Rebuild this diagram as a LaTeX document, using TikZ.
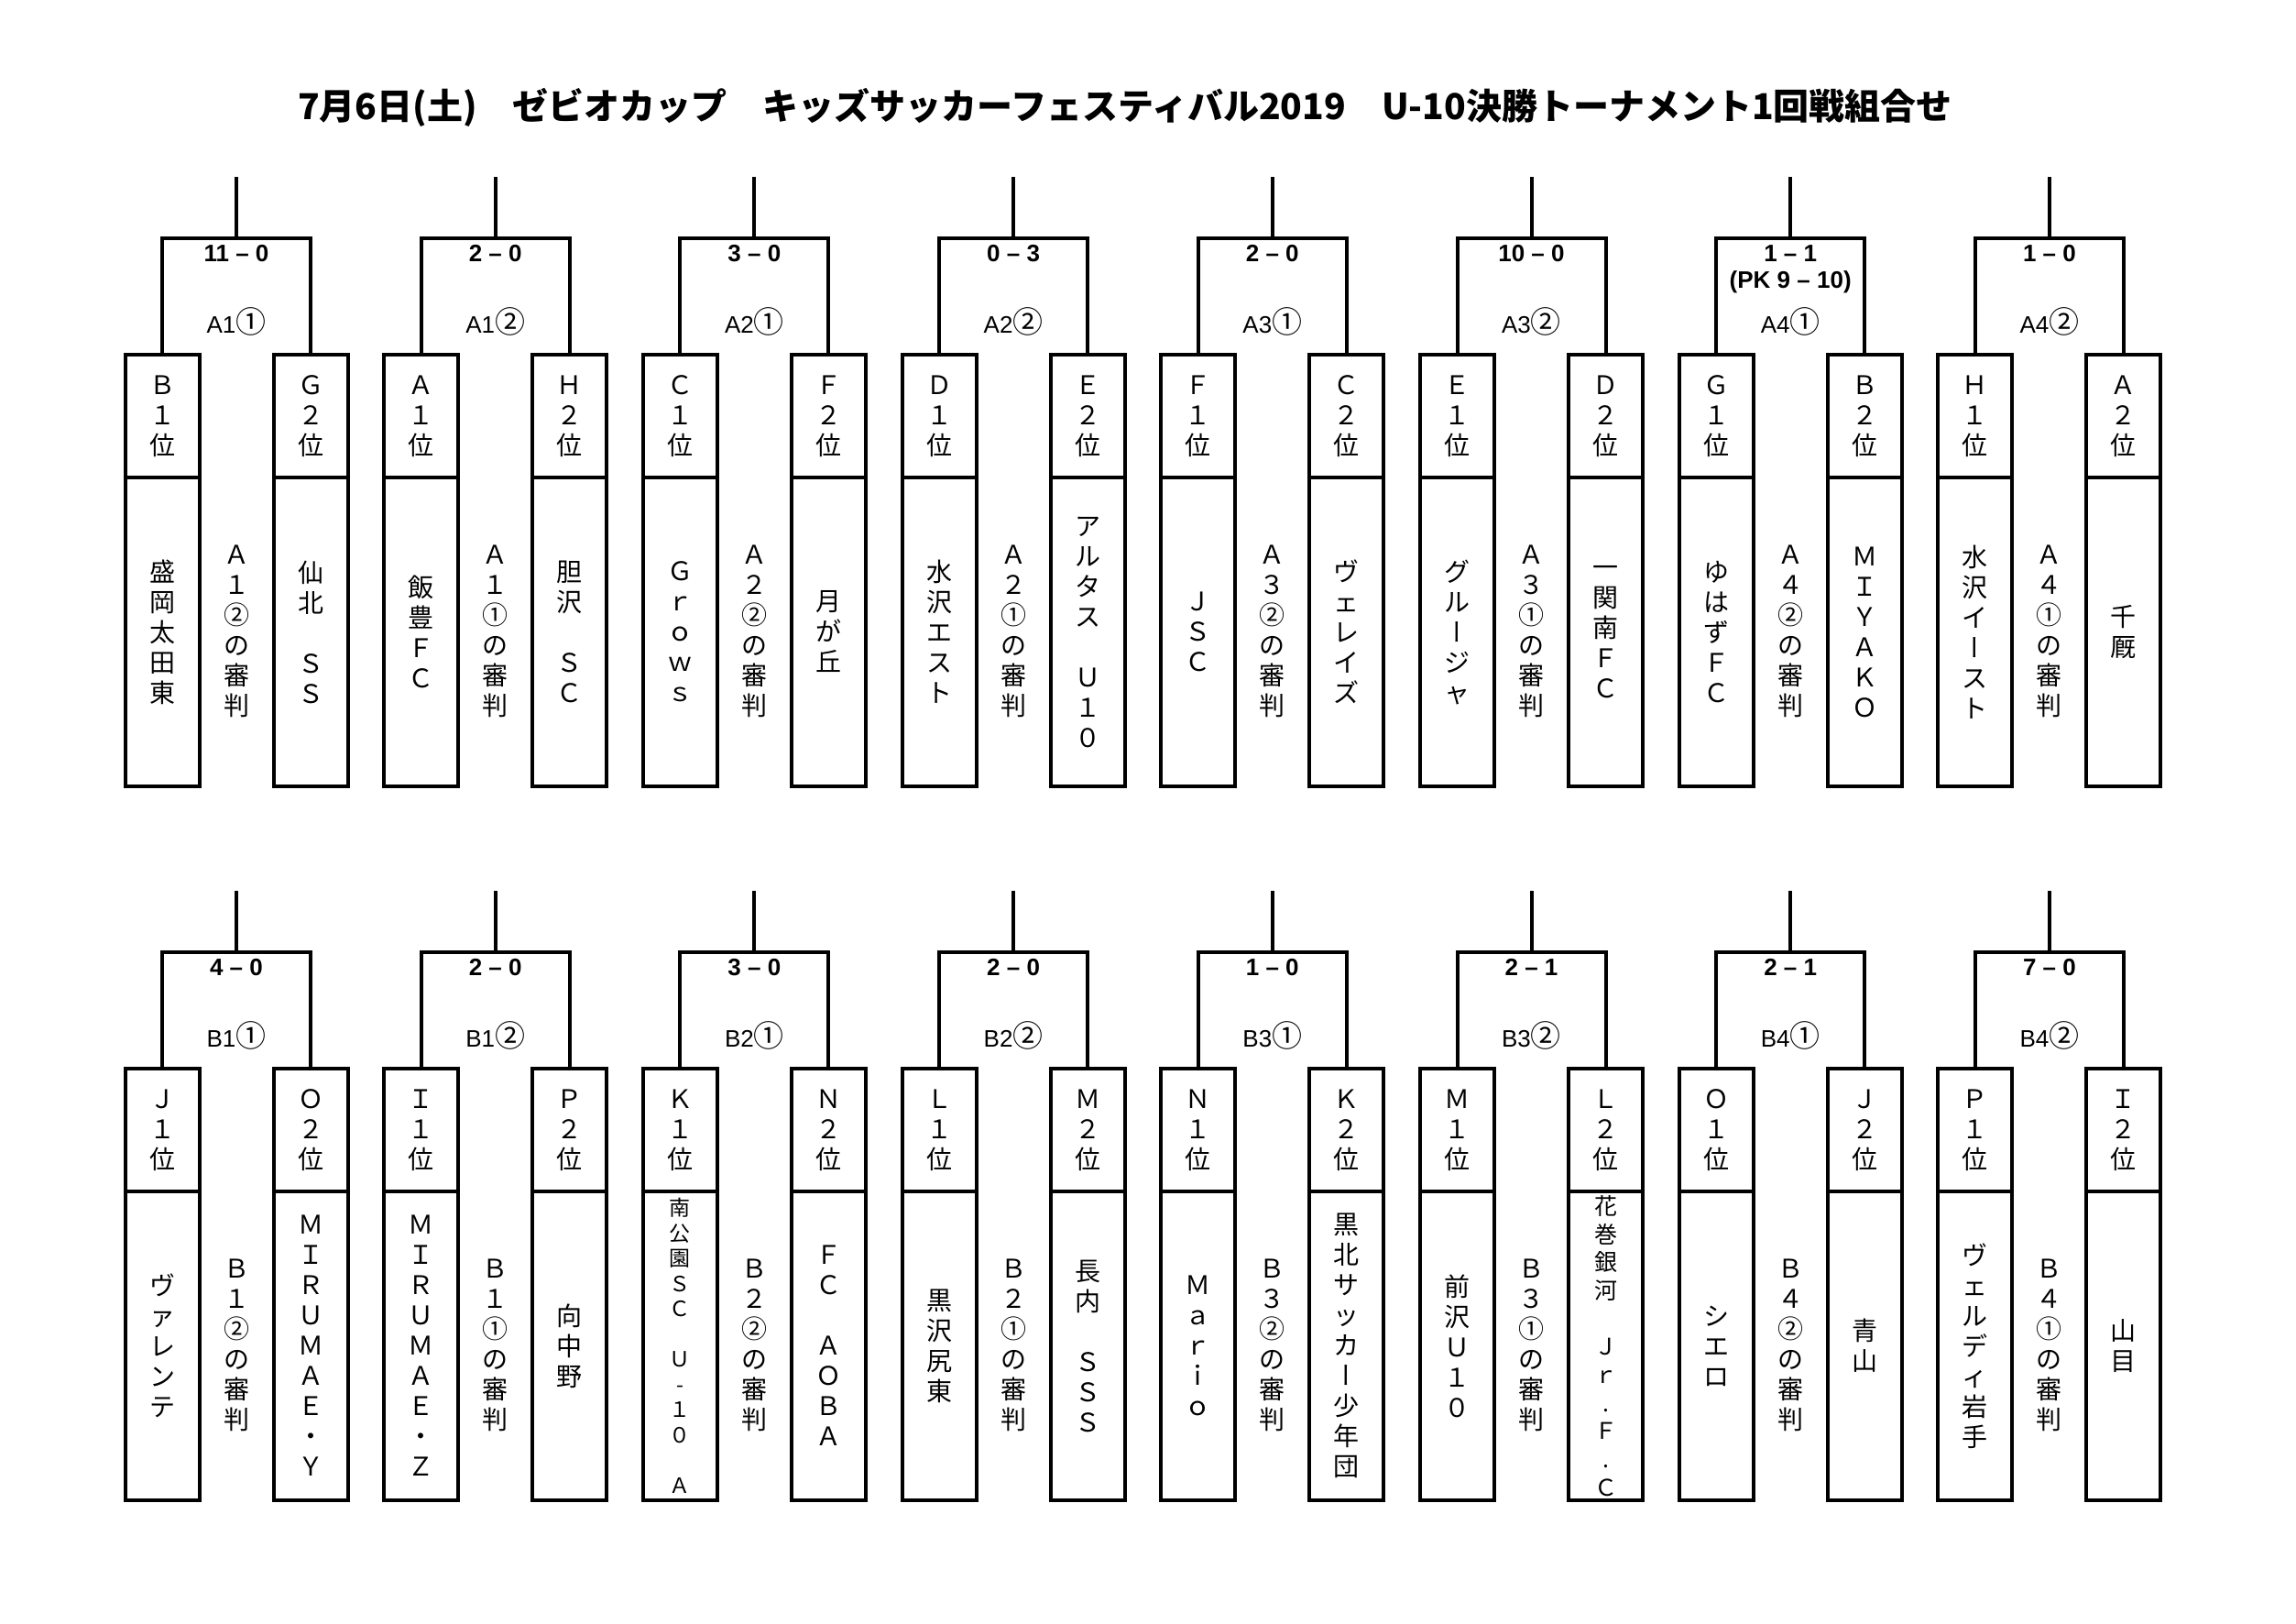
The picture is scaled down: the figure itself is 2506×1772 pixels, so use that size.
\documentclass[tikz,border=0pt]{standalone}
\usepackage{fontspec}
\setmainfont{Noto Sans CJK JP}
\newfontfamily\jp{Noto Sans CJK JP}
\newfontfamily\jpvert[RawFeature=+vert]{Noto Sans CJK JP}
\newfontfamily\lsans{Liberation Sans}
\makeatletter
\newdimen\vstskip \vstskip=33pt
\def\vst#1{\vbox{\baselineskip=\vstskip\lineskiplimit=-100pt\lineskip=0pt\relax\vst@a#1\vst@end}}
\def\vst@a#1{\ifx#1\vst@end\else\hbox to 0pt{\hss\vst@ch#1\hss}\expandafter\vst@a\fi}
\def\vst@ch#1{\ifx ー#1{\jpvert ー}\else #1\fi}
\def\vstx#1{\expandafter\vst\expandafter{#1}}
\makeatother
\tikzset{
  wire/.style={line width=4pt},
  rankbox/.style={draw, line width=4pt, minimum width=81pt, minimum height=134pt, inner sep=0pt, outer sep=0pt, font={\jp\fontsize{28pt}{33pt}\selectfont\vstskip=33pt\relax}},
  namebox/.style={draw, line width=4pt, minimum width=81pt, minimum height=337pt, inner sep=0pt, outer sep=0pt},
  nm/.style={font={\jp\fontsize{28pt}{33pt}\selectfont\vstskip=33pt\relax}},
  sma/.style={font={\jp\fontsize{23pt}{27.5pt}\selectfont\vstskip=27.5pt\relax}},
  smb/.style={font={\jp\fontsize{25pt}{30.7pt}\selectfont\vstskip=30.7pt\relax}},
  refer/.style={inner sep=0pt, font={\jp\fontsize{28pt}{33pt}\selectfont\vstskip=33pt\relax}},
  score/.style={inner sep=0pt, anchor=base, font={\lsans\bfseries\fontsize{26pt}{26pt}\selectfont}},
  glabel/.style={inner sep=0pt, anchor=base, font={\lsans\fontsize{26pt}{26pt}\selectfont}},
  titlestyle/.style={inner sep=0pt, font={\jp\bfseries\fontsize{39pt}{39pt}\selectfont}}
}
\begin{document}
\begin{tikzpicture}[x=1pt, y=-1pt]
\useasboundingbox (0,0) rectangle (2506,1772);
\node[titlestyle] (title) at (1228,117) {7月6日(土)　ゼビオカップ　キッズサッカーフェスティバル2019　U-10決勝トーナメント1回戦組合せ};
\foreach \r/\oy/\k/\lr/\ln/\ls/\rr/\rn/\rs/\rf/\sc/\lb/\cn in {
 t/0/0/Ｂ１位/盛岡太田東/nm/Ｇ２位/仙北　ＳＳ/nm/Ａ１②の審判/11 – 0/A1/①,
 t/0/1/Ａ１位/飯豊ＦＣ/nm/Ｈ２位/胆沢　ＳＣ/nm/Ａ１①の審判/2 – 0/A1/②,
 t/0/2/Ｃ１位/Ｇｒｏｗｓ/nm/Ｆ２位/月が丘/nm/Ａ２②の審判/3 – 0/A2/①,
 t/0/3/Ｄ１位/水沢エスト/nm/Ｅ２位/アルタス　Ｕ１０/nm/Ａ２①の審判/0 – 3/A2/②,
 t/0/4/Ｆ１位/ＪＳＣ/nm/Ｃ２位/ヴェレイズ/nm/Ａ３②の審判/2 – 0/A3/①,
 t/0/5/Ｅ１位/グルージャ/nm/Ｄ２位/一関南ＦＣ/nm/Ａ３①の審判/10 – 0/A3/②,
 t/0/6/Ｇ１位/ゆはずＦＣ/nm/Ｂ２位/ＭＩＹＡＫＯ/nm/Ａ４②の審判/1 – 1/A4/①,
 t/0/7/Ｈ１位/水沢イースト/nm/Ａ２位/千厩/nm/Ａ４①の審判/1 – 0/A4/②,
 b/779/0/Ｊ１位/ヴァレンテ/nm/Ｏ２位/ＭＩＲＵＭＡＥ・Ｙ/nm/Ｂ１②の審判/4 – 0/B1/①,
 b/779/1/Ｉ１位/ＭＩＲＵＭＡＥ・Ｚ/nm/Ｐ２位/向中野/nm/Ｂ１①の審判/2 – 0/B1/②,
 b/779/2/Ｋ１位/南公園ＳＣ　Ｕ-１０　Ａ/sma/Ｎ２位/ＦＣ　ＡＯＢＡ/nm/Ｂ２②の審判/3 – 0/B2/①,
 b/779/3/Ｌ１位/黒沢尻東/nm/Ｍ２位/長内　ＳＳＳ/nm/Ｂ２①の審判/2 – 0/B2/②,
 b/779/4/Ｎ１位/Ｍａｒｉｏ/nm/Ｋ２位/黒北サッカー少年団/nm/Ｂ３②の審判/1 – 0/B3/①,
 b/779/5/Ｍ１位/前沢Ｕ１０/nm/Ｌ２位/花巻銀河　Ｊｒ.Ｆ.Ｃ/smb/Ｂ３①の審判/2 – 1/B3/②,
 b/779/6/Ｏ１位/シエロ/nm/Ｊ２位/青山/nm/Ｂ４②の審判/2 – 1/B4/①,
 b/779/7/Ｐ１位/ヴェルディ岩手/nm/Ｉ２位/山目/nm/Ｂ４①の審判/7 – 0/B4/②}
{
  \pgfmathsetmacro\cx{258+282.7*\k}
  \node[rankbox] (\r-lr\k) at (\cx-81,454+\oy) {\vstx\lr};
  \node[rankbox] (\r-rr\k) at (\cx+81,454+\oy) {\vstx\rr};
  \node[namebox,\ls] (\r-ln\k) at (\cx-81,689.5+\oy) {\vstx\ln};
  \node[namebox,\rs] (\r-rn\k) at (\cx+81,689.5+\oy) {\vstx\rn};
  \node[refer] (\r-rf\k) at (\cx,689+\oy) {\vstx\rf};
  \node[score] (\r-sc\k) at (\cx,285+\oy) {\sc};
  \node[glabel] (\r-lb\k) at (\cx,363+\oy) {\lb{\jp\fontsize{33pt}{33pt}\selectfont\cn}};
  \coordinate (\r-j\k) at (\cx,260+\oy);
  \coordinate (\r-s\k) at (\cx,193+\oy);
  \draw[wire] (\r-lr\k.north) |- (\r-j\k) -| (\r-rr\k.north);
  \draw[wire] (\r-j\k) -- (\r-s\k);
}
\node[score] (pk) at (258+282.7*6,314) {(PK 9 – 10)};
\end{tikzpicture}
\end{document}
